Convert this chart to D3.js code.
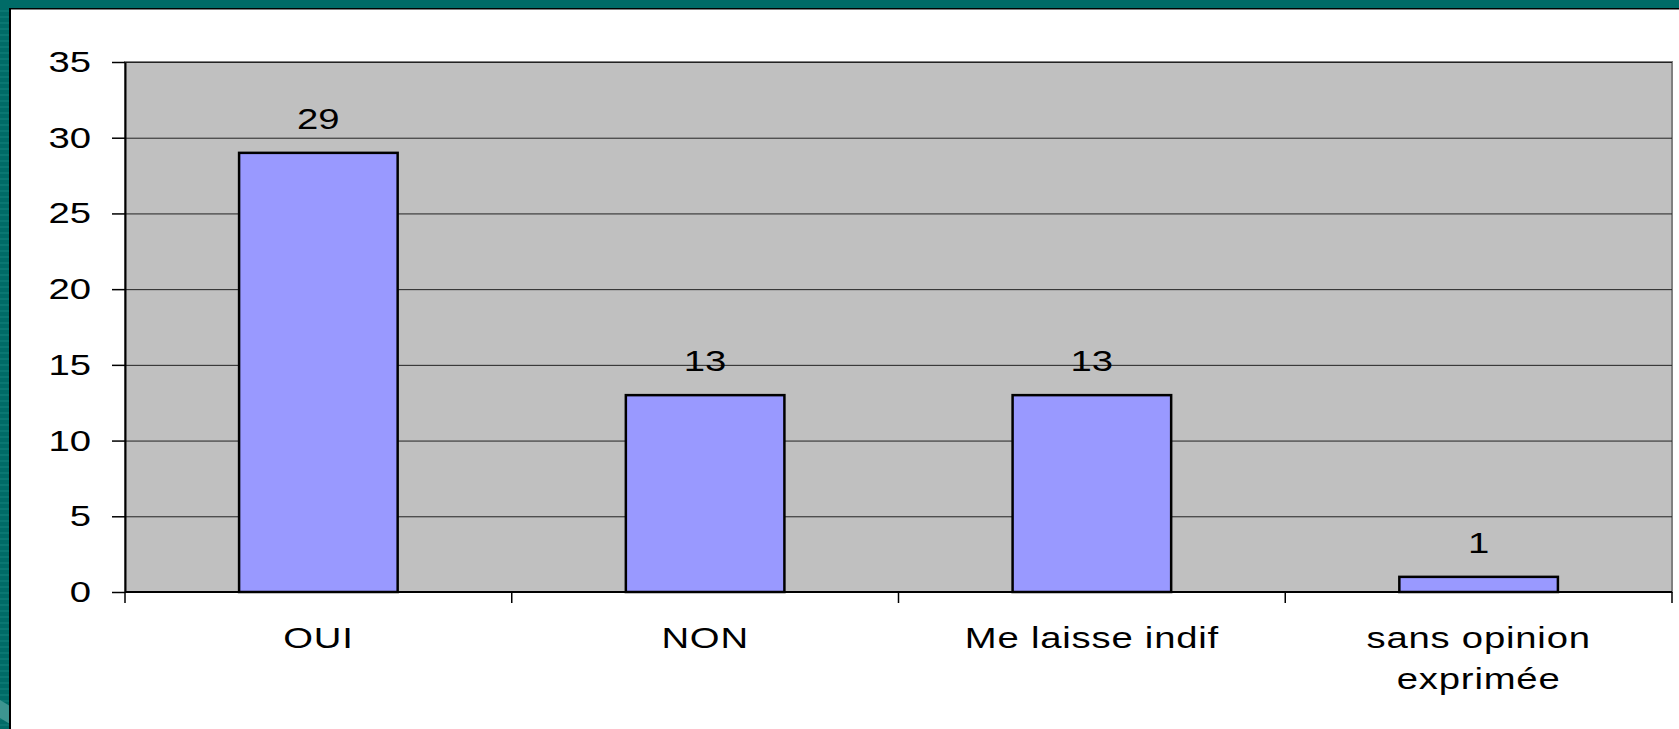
<!DOCTYPE html>
<html>
<head>
<meta charset="utf-8">
<script src="https://cdn.jsdelivr.net/npm/d3@7"></script>
<style>
body { margin: 0; background: #ffffff; }
text { font-family: "Liberation Sans", Arial, sans-serif; fill: #000; }
</style>
</head>
<body>
<div class="chartfield"></div>
<script>
var width = 1679;
var height = 729;

// data
var categories = ["OUI", "NON", "Me laisse indif", "sans opinion\nexprimée"];
var values = [29, 13, 13, 1];
var yTicks = [0, 5, 10, 15, 20, 25, 30, 35];

var plotLeft = 125, plotRight = 1672, plotTop = 62, plotBottom = 592;
var stretch = 1.32; // the text of the original is drawn wide
var fontSize = 29;

var svg = d3.select(".chartfield")
	.append("svg")
	.attr("width", width)
	.attr("height", height);

// teal frame of the slide
svg.append("rect").attr("x", 0).attr("y", 0).attr("width", width).attr("height", 8).attr("fill", "#006B67");
svg.append("rect").attr("x", 0).attr("y", 0).attr("width", 10).attr("height", height).attr("fill", "#006B67");
for (var s = 10; s < height; s += 6) {
	svg.append("rect").attr("x", 0).attr("y", s).attr("width", 9).attr("height", 2).attr("fill", "#0A7772");
}
svg.append("path").attr("d", "M0,700 L10,706 L10,724 L0,718 Z").attr("fill", "#3D9490");
svg.append("rect").attr("x", 10).attr("y", 8).attr("width", width - 10).attr("height", 1).attr("fill", "#000");
svg.append("rect").attr("x", 10).attr("y", 9).attr("width", width - 10).attr("height", 1).attr("fill", "#808080");
svg.append("rect").attr("x", 9).attr("y", 8).attr("width", 2).attr("height", height - 8).attr("fill", "#000");

var x = d3.scaleBand()
	.domain(categories)
	.range([plotLeft, plotRight])
	.padding(0);

var y = d3.scaleLinear()
	.domain([0, 35])
	.range([plotBottom, plotTop]);

// plot area
svg.append("rect")
	.attr("x", plotLeft).attr("y", plotTop)
	.attr("width", plotRight - plotLeft).attr("height", plotBottom - plotTop)
	.attr("fill", "#C0C0C0")
	.attr("stroke", "#808080")
	.attr("stroke-width", 2);

// gridlines
svg.append("g")
	.selectAll("line")
	.data(yTicks.filter(function(d) { return d > 0; }))
	.enter().append("line")
	.attr("x1", plotLeft).attr("x2", plotRight)
	.attr("y1", function(d) { return y(d) + 0.5; })
	.attr("y2", function(d) { return y(d) + 0.5; })
	.attr("stroke", "#222")
	.attr("stroke-width", 1);

// bars
var barW = x.bandwidth() * 0.41;
svg.append("g")
	.selectAll("rect")
	.data(values)
	.enter().append("rect")
	.attr("x", function(d, i) { return x(categories[i]) + (x.bandwidth() - barW) / 2; })
	.attr("y", function(d) { return y(d); })
	.attr("width", barW)
	.attr("height", function(d) { return y(0) - y(d); })
	.attr("fill", "#9999FF")
	.attr("stroke", "#000")
	.attr("stroke-width", 2.5);

// y axis
var yAxis = svg.append("g")
	.attr("transform", "translate(" + plotLeft + ",0)")
	.call(d3.axisLeft(y).tickValues(yTicks).tickSize(13).tickSizeOuter(0).tickFormat(""));
yAxis.select(".domain").attr("stroke", "#000").attr("stroke-width", 2);
yAxis.selectAll(".tick line").attr("stroke", "#000").attr("stroke-width", 1.5);

svg.append("g")
	.selectAll("text")
	.data(yTicks)
	.enter().append("text")
	.attr("transform", function(d) { return "translate(91," + (y(d) + 10) + ") scale(" + stretch + ",1)"; })
	.attr("text-anchor", "end")
	.attr("font-size", fontSize)
	.text(function(d) { return d; });

// x axis, ticks between categories
svg.append("line")
	.attr("x1", plotLeft).attr("x2", plotRight)
	.attr("y1", plotBottom).attr("y2", plotBottom)
	.attr("stroke", "#000").attr("stroke-width", 2);
var bounds = categories.map(function(c) { return x(c); }).concat([x.range()[1]]);
svg.append("g")
	.selectAll("line")
	.data(bounds)
	.enter().append("line")
	.attr("x1", function(d) { return d; }).attr("x2", function(d) { return d; })
	.attr("y1", plotBottom).attr("y2", plotBottom + 11)
	.attr("stroke", "#000").attr("stroke-width", 1.5);

var catLabels = svg.append("g")
	.selectAll("text")
	.data(categories)
	.enter().append("text")
	.attr("transform", function(d) { return "translate(" + (x(d) + x.bandwidth() / 2) + ",648) scale(" + stretch + ",1)"; })
	.attr("text-anchor", "middle")
	.attr("letter-spacing", 0.6)
	.attr("font-size", fontSize);
catLabels.selectAll("tspan")
	.data(function(d) { return d.split("\n"); })
	.enter().append("tspan")
	.attr("x", 0)
	.attr("y", function(d, i) { return i * 41; })
	.text(function(d) { return d; });

// value labels
svg.append("g")
	.selectAll("text")
	.data(values)
	.enter().append("text")
	.attr("transform", function(d, i) { return "translate(" + (x(categories[i]) + x.bandwidth() / 2) + "," + (y(d) - 24) + ") scale(" + stretch + ",1)"; })
	.attr("text-anchor", "middle")
	.attr("font-size", fontSize)
	.text(function(d) { return d; });
</script>
</body>
</html>
